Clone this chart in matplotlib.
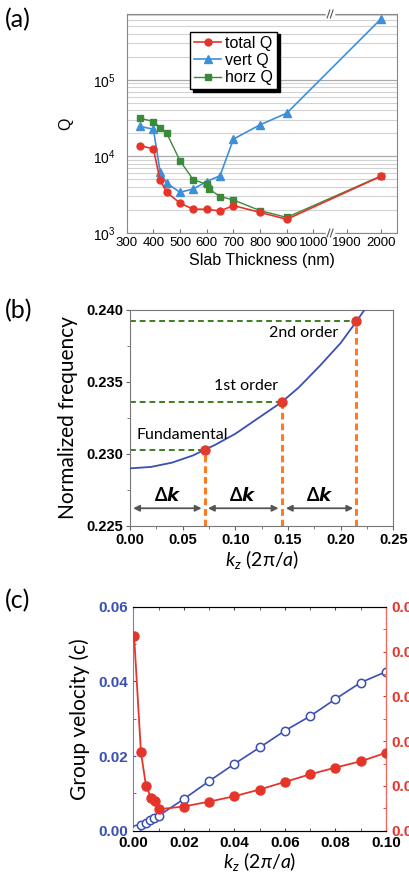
import numpy as np
import matplotlib
matplotlib.use('Agg')
import matplotlib.pyplot as plt
from matplotlib.ticker import MultipleLocator, FormatStrFormatter, LogLocator, NullFormatter

plt.rcParams['font.family'] = ['Liberation Sans', 'DejaVu Sans']
plt.rcParams['mathtext.fontset'] = 'custom'
plt.rcParams['mathtext.rm'] = 'Lato'
plt.rcParams['mathtext.it'] = 'Lato:italic'
plt.rcParams['mathtext.bf'] = 'Lato:bold'

# ---- (a) Q vs slab thickness ----
thk = [350, 400, 425, 450, 500, 550, 600, 650, 700, 800, 900, 2000]
total_q = [13800, 12500, 4900, 3400, 2450, 2050, 2040, 1940, 2280, 1860, 1510, 5500]
vert_q = [24600, 22600, 6340, 4460, 3400, 3760, 4700, 5600, 16800, 25800, 36600, 620000]
thk_horz = [350, 400, 425, 450, 500, 550, 600, 610, 650, 700, 800, 900, 2000]
horz_q = [31500, 28500, 23800, 20000, 8740, 4930, 4350, 3730, 2990, 2700, 1960, 1600, 5550]
thk_ticks = [300, 400, 500, 600, 700, 800, 900, 1000, 1900, 2000]

# ---- (b) dispersion curve ----
kz_band = [0.0, 0.02, 0.04, 0.06, 0.071, 0.08, 0.10, 0.12, 0.144, 0.16, 0.18, 0.20, 0.215, 0.2235]
freq_band = [0.2290, 0.2291, 0.2294, 0.2299, 0.2303, 0.2306, 0.2314, 0.2324, 0.2336,
             0.2346, 0.2361, 0.2377, 0.2392, 0.2401]
kz_modes = [0.071, 0.144, 0.215]
freq_modes = [0.2303, 0.2336, 0.2392]
mode_names = ['Fundamental', '1st order', '2nd order']

# ---- (c) group velocity and right-axis quantity ----
kz_vg = [0.001, 0.003, 0.005, 0.0065, 0.008, 0.010, 0.02, 0.03, 0.04, 0.05, 0.06, 0.07, 0.08, 0.09, 0.10]
vg = [0.0005, 0.0015, 0.0021, 0.0028, 0.0034, 0.0040, 0.0085, 0.0133, 0.0179, 0.0223,
      0.0268, 0.0307, 0.0353, 0.0397, 0.0426]
kz_red = [0.0003, 0.003, 0.005, 0.007, 0.0085, 0.010, 0.02, 0.03, 0.04, 0.05, 0.06, 0.07, 0.08, 0.09, 0.10]
red_val = [0.0435, 0.0176, 0.0100, 0.0074, 0.0066, 0.0048, 0.0054, 0.0065, 0.0077, 0.0092,
           0.0109, 0.0126, 0.0141, 0.0155, 0.0174]

RED = '#e5352b'
LBLUE = '#3f8fd8'
GREEN = '#3a8a3a'
DBLUE = '#3a4fb4'
ORANGE = '#ff7a22'

fig = plt.figure(figsize=(4.09, 8.80), dpi=100)

# broken x axis: compress the 1000-1900 gap
_xb = [-1e4, 1000, 1900, 1e5]
_tb = [-1e4, 1000, 1125, 1125 + (1e5 - 1900) * 1.28]
def fwd(x):
    return np.interp(x, _xb, _tb)
def inv(t):
    return np.interp(t, _tb, _xb)

ax1 = fig.add_axes([0.3098, 0.7352, 0.660, 0.2489])
ax1.set_xscale('function', functions=(fwd, inv))
ax1.set_yscale('log')
ax1.plot(thk, total_q, '-o', color=RED, ms=5, lw=1.2, label='total Q', zorder=4)
ax1.plot(thk, vert_q, '-^', color=LBLUE, ms=5.5, lw=1.2, label='vert Q', zorder=3)
ax1.plot(thk_horz, horz_q, '-s', color=GREEN, ms=4.5, lw=1.0, label='horz Q', zorder=3)
ax1.set_xlim(300, inv(1312))
ax1.set_ylim(1e3, 7.2e5)
ax1.set_xticks(thk_ticks)
ax1.set_xticklabels([str(t) for t in thk_ticks])
ax1.yaxis.set_major_locator(LogLocator(base=10, numticks=10))
ax1.yaxis.set_minor_locator(LogLocator(base=10, subs=np.arange(2, 10), numticks=20))
ax1.yaxis.set_minor_formatter(NullFormatter())
ax1.grid(True, axis='y', which='major', color='#aaaaaa', lw=0.9)
ax1.grid(True, axis='y', which='minor', color='#d2d2d2', lw=0.8)
ax1.tick_params(axis='x', direction='in', length=3, labelsize=9.5, pad=3, color='#777777')
ax1.tick_params(axis='y', which='both', length=0, labelsize=10, pad=8)
for s in ax1.spines.values():
    s.set_color('#888888')
ax1.set_xlabel('Slab Thickness (nm)', fontsize=11.5, labelpad=3)
ax1.set_ylabel('Q', fontsize=11.5, labelpad=14)
leg = ax1.legend(loc='upper left', bbox_to_anchor=(0.235, 0.92), fontsize=11.5,
                 frameon=True, fancybox=False, edgecolor='black', framealpha=1,
                 shadow={'color': 'black', 'alpha': 1}, borderpad=0.25, labelspacing=0.15,
                 handlelength=1.7, handletextpad=0.25, borderaxespad=0)
leg.get_frame().set_linewidth(1.0)

# break marks on the x axis
xb = (fwd(1450) - 300) / (1312 - 300)
for yy in (0, 1):
    ax1.plot([xb - 0.012, xb + 0.012], [yy, yy], color='white', lw=2.5,
             transform=ax1.transAxes, clip_on=False, zorder=6)
    for dx in (-0.006, 0.006):
        ax1.plot([xb + dx - 0.005, xb + dx + 0.005], [yy - 0.018, yy + 0.018], color='#555555',
                 lw=0.8, transform=ax1.transAxes, clip_on=False, zorder=7)

# ---- (b) ----
ax2 = fig.add_axes([0.3178, 0.4023, 0.6438, 0.2455])
ax2.plot(kz_band, freq_band, color=DBLUE, lw=1.3, zorder=3)
for k, f in zip(kz_modes, freq_modes):
    ax2.plot([0, k], [f, f], color='#3d7d1e', lw=1.4, dashes=(3, 2), zorder=2)
    ax2.plot([k, k], [0.225, f], color=ORANGE, lw=2.2, dashes=(2.2, 1.3), zorder=2)
ax2.plot(kz_modes, freq_modes, 'o', color='#e23a2e', ms=6.5, zorder=4)
ax2.text(0.006, 0.2313, mode_names[0], fontsize=11.5, family='Lato', ha='left', va='center')
ax2.text(0.110, 0.2347, mode_names[1], fontsize=11.5, family='Lato', ha='center', va='center')
ax2.text(0.165, 0.2384, mode_names[2], fontsize=11.5, family='Lato', ha='center', va='center')
edges = [0.003, 0.068, 0.074, 0.141, 0.148, 0.212]
for i in range(3):
    a, b = edges[2 * i], edges[2 * i + 1]
    ax2.annotate('', xy=(a, 0.22623), xytext=(b, 0.22623),
                 arrowprops=dict(arrowstyle='<|-|>', color='#555555', lw=1.3,
                                 mutation_scale=9, shrinkA=0, shrinkB=0))
    ax2.text((a + b) / 2, 0.2271, r'$\mathbf{\Delta}\mathbfit{k}$', fontsize=13,
             ha='center', va='center')
ax2.set_xlim(0, 0.25)
ax2.set_ylim(0.225, 0.240)
ax2.xaxis.set_major_locator(MultipleLocator(0.05))
ax2.xaxis.set_minor_locator(MultipleLocator(0.025))
ax2.yaxis.set_major_locator(MultipleLocator(0.005))
ax2.yaxis.set_minor_locator(MultipleLocator(0.0025))
ax2.xaxis.set_major_formatter(FormatStrFormatter('%.2f'))
ax2.yaxis.set_major_formatter(FormatStrFormatter('%.3f'))
ax2.tick_params(which='major', direction='out', length=3, labelsize=10.5, pad=2, color='#666666')
ax2.tick_params(which='minor', direction='out', length=2, color='#666666')
for lab in ax2.get_xticklabels() + ax2.get_yticklabels():
    lab.set_fontweight('bold')
for s in ax2.spines.values():
    s.set_color('#777777')
ax2.set_ylabel('Normalized frequency', family='Lato', fontsize=15, labelpad=6)
ax2.set_xlabel(r'$k_z$ (2π/$a$)', family='Lato', fontsize=14, labelpad=1)

# ---- (c) ----
ax3 = fig.add_axes([0.326, 0.0560, 0.6178, 0.2545])
ax3.plot(kz_vg, vg, '-o', color=DBLUE, mfc='white', mec=DBLUE, ms=6, mew=1.1, lw=1.2, zorder=3)
ax3.set_xlim(0, 0.10)
ax3.set_ylim(0, 0.06)
ax3.xaxis.set_major_locator(MultipleLocator(0.02))
ax3.xaxis.set_minor_locator(MultipleLocator(0.01))
ax3.yaxis.set_major_locator(MultipleLocator(0.02))
ax3.yaxis.set_minor_locator(MultipleLocator(0.01))
ax3.xaxis.set_major_formatter(FormatStrFormatter('%.2f'))
ax3.yaxis.set_major_formatter(FormatStrFormatter('%.2f'))
ax3.tick_params(axis='x', which='both', direction='in', top=True, length=2.5, labelsize=11, pad=4,
                color='#444444')
ax3.tick_params(axis='y', which='both', direction='in', length=2.5, labelsize=11, pad=4,
                colors=DBLUE)
for lab in ax3.get_xticklabels() + ax3.get_yticklabels():
    lab.set_fontweight('bold')
ax3.spines['left'].set_color('#6f7fd0')
ax3.spines['top'].set_color('#666666')
ax3.spines['bottom'].set_color('#666666')
ax3.set_ylabel('Group velocity (c)', family='Lato', fontsize=15, labelpad=6)
ax3.set_xlabel(r'$k_z$ (2$\pi$/$a$)', family='Lato', fontsize=14, labelpad=0)

ax4 = ax3.twinx()
ax4.plot(kz_red, red_val, '-o', color=RED, ms=6.5, lw=1.3, zorder=4)
ax4.set_ylim(0, 0.05)
ax4.yaxis.set_major_locator(MultipleLocator(0.01))
ax4.yaxis.set_minor_locator(MultipleLocator(0.005))
ax4.yaxis.set_major_formatter(FormatStrFormatter('%.2f'))
ax4.tick_params(axis='y', which='both', direction='in', length=2.5, labelsize=11, pad=4, colors=RED)
for lab in ax4.get_yticklabels():
    lab.set_fontweight('bold')
ax4.spines['right'].set_color('#ef6a60')
ax4.spines['left'].set_visible(False)

# panel letters
for y, letter in [(0.978, '(a)'), (0.647, '(b)'), (0.317, '(c)')]:
    fig.text(0.012, y, letter, family='Lato', fontsize=18, va='center', ha='left')

fig.savefig('out.png', dpi=100)
